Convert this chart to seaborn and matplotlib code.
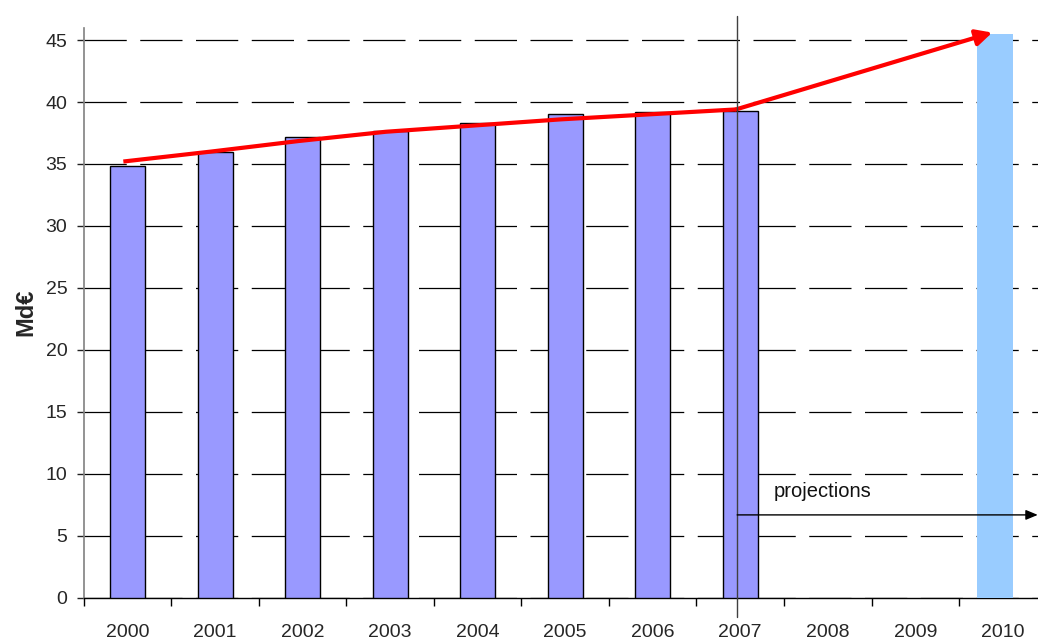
import matplotlib
matplotlib.use("Agg")
import matplotlib.pyplot as plt
import seaborn as sns
import pandas as pd
import numpy as np

# Annual totals (billions of euros)
years = ["2000", "2001", "2002", "2003", "2004", "2005", "2006", "2007", "2008", "2009", "2010"]
actual_years = ["2000", "2001", "2002", "2003", "2004", "2005", "2006", "2007"]
actual_values = [34.8, 36.0, 37.2, 37.7, 38.3, 39.0, 39.2, 39.3]
projection_year = "2010"
projection_value = 45.5

# Trend line through the observed years, then extended to the projection
trend_values = [35.2, 36.0, 36.85, 37.6, 38.1, 38.6, 39.0, 39.4]
trend_target = 45.6

y_ticks = [0, 5, 10, 15, 20, 25, 30, 35, 40, 45]

sns.set_theme(style="white")
plt.rcParams["font.family"] = ["Liberation Sans", "DejaVu Sans"]

fig = plt.figure(figsize=(10.38, 6.39), dpi=100)
ax = fig.add_axes([0.0809, 0.0642, 0.9273, 0.8926])

df = pd.DataFrame({"year": actual_years, "value": actual_values})
sns.barplot(data=df, x="year", y="value", order=years, color="#9999FF",
            saturation=1, width=0.4, edgecolor="black", linewidth=1.0, ax=ax, zorder=3)

pos = {y: i for i, y in enumerate(years)}

# Projected bar
ax.bar(pos[projection_year] - 0.09, projection_value, width=0.41,
       color="#99CCFF", edgecolor="none", zorder=3)

# Trend line
xs = np.array([pos[y] for y in actual_years]) - 0.05
ax.plot(xs, trend_values, color="#FF0000", lw=3.0, zorder=5, solid_capstyle="butt")
ax.annotate("", xy=(pos[projection_year] - 0.12, trend_target),
            xytext=(xs[-1], trend_values[-1]),
            arrowprops=dict(arrowstyle="-|>,head_length=0.8,head_width=0.4",
                            color="#FF0000", lw=3.0, shrinkA=0, shrinkB=0),
            zorder=5)

# Boundary between observed and projected years
split_x = pos["2007"] - 0.035
ax.plot([split_x, split_x], [-1.5, 46.9], color="#404040", lw=1.0,
        clip_on=False, zorder=6)

# Projection marker
ax.annotate("", xy=(10.40, 6.7), xytext=(split_x, 6.7),
            arrowprops=dict(arrowstyle="-|>,head_length=0.6,head_width=0.25",
                            color="black", lw=1.0, shrinkA=0, shrinkB=0),
            annotation_clip=False, zorder=6)
ax.text(7.94, 8.6, "projections", ha="center", va="center", fontsize=14.5, color="#111111")

ax.set_xlim(-0.5, 10.5)
ax.set_ylim(0, 46)
ax.set_yticks(y_ticks)
ax.set_yticklabels([str(v) for v in y_ticks], fontsize=14)

# Tick marks at category boundaries, labels at category centres
ax.set_xticks(np.arange(-0.5, 11, 1.0))
ax.set_xticklabels([])
ax.set_xticks(np.arange(len(years)), minor=True)
ax.set_xticklabels(years, minor=True, fontsize=14)
ax.tick_params(axis="x", which="major", direction="out", length=6, width=1, color="black", bottom=True)
ax.tick_params(axis="x", which="minor", length=0, pad=18.5)
ax.tick_params(axis="y", direction="out", length=5, width=1, color="#222222", left=True, pad=7)

ax.yaxis.grid(True, color="black", lw=0.9, linestyle=(0, (33.8, 10.8)), zorder=0)
ax.xaxis.grid(False)
ax.set_axisbelow(True)

for side in ["top", "right"]:
    ax.spines[side].set_visible(False)
ax.spines["left"].set_color("#808080")
ax.spines["left"].set_linewidth(1.2)
ax.spines["bottom"].set_color("black")
ax.spines["bottom"].set_linewidth(1.0)

ax.set_xlabel("")
ax.set_ylabel("Md€", fontsize=17, fontweight="bold", labelpad=6)

fig.savefig("out.png", dpi=100)
